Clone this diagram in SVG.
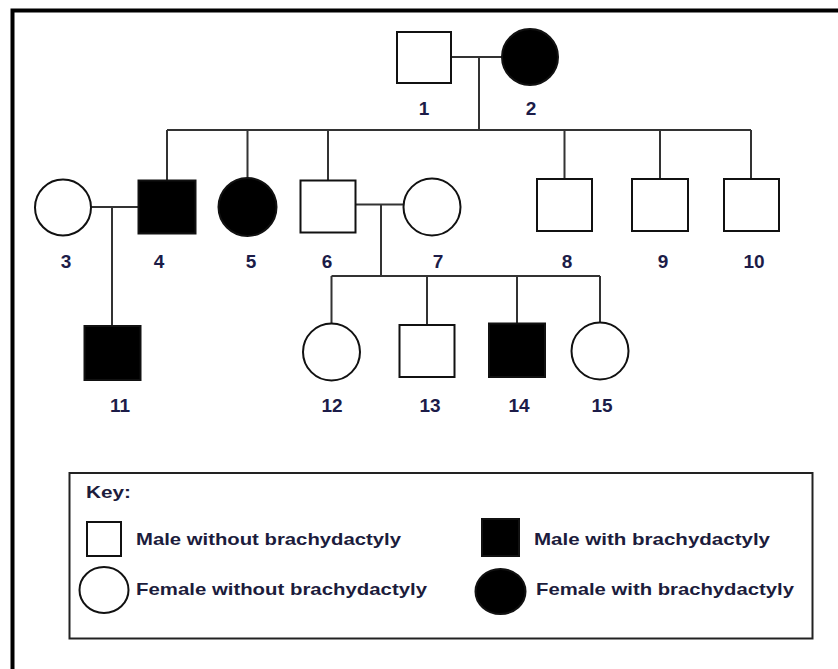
<svg xmlns="http://www.w3.org/2000/svg" width="838" height="669" viewBox="0 0 838 669">
<style>
.m{fill:#fff;stroke:#111;stroke-width:2}
.a{fill:#000;stroke:#111;stroke-width:2}
.c{fill:none;stroke:#333;stroke-width:2}
.lb{font-family:"Liberation Sans",Arial,sans-serif;font-weight:bold;font-size:19px;fill:#1c1c48;text-anchor:middle}
.kt{font-family:"Liberation Sans",Arial,sans-serif;font-weight:bold;font-size:17px;fill:#1c1c3c}
</style>
<rect x="0" y="0" width="838" height="669" fill="#fff"/>
<rect x="12.5" y="10.5" width="840" height="680" fill="none" stroke="#000" stroke-width="4"/>
<g id="connectors">
<path class="c" d="M451 57 H502 M479 57 V130 M167 130 H751 M167 130 V180 M247.5 130 V178 M328 130 V180 M564.5 130 V179 M660 130 V179 M751 130 V179"/>
<path class="c" d="M91 207 H138 M112 207 V326"/>
<path class="c" d="M356 204.5 H403 M381 204.5 V276 M331.5 276 H600 M331.5 276 V323.5 M427 276 V325 M517 276 V323 M600 276 V322.5"/>
</g>
<g id="n1"><rect class="m" x="397" y="32" width="54" height="51"/><text class="lb" x="424" y="115">1</text></g>
<g id="n2"><circle class="a" cx="530" cy="57" r="28"/><text class="lb" x="531" y="115">2</text></g>
<g id="n3"><circle class="m" cx="63" cy="207.5" r="28"/><text class="lb" x="66" y="268">3</text></g>
<g id="n4"><rect class="a" x="138.5" y="180.5" width="57" height="53"/><text class="lb" x="159" y="268">4</text></g>
<g id="n5"><circle class="a" cx="247.5" cy="207" r="29"/><text class="lb" x="251" y="268">5</text></g>
<g id="n6"><rect class="m" x="300.5" y="180.5" width="55" height="52" stroke-width="3"/><text class="lb" x="327" y="268">6</text></g>
<g id="n7"><circle class="m" cx="432" cy="207" r="28.5"/><text class="lb" x="438" y="268">7</text></g>
<g id="n8"><rect class="m" x="537" y="179" width="55" height="52"/><text class="lb" x="567" y="268">8</text></g>
<g id="n9"><rect class="m" x="632" y="179" width="56" height="52"/><text class="lb" x="663" y="268">9</text></g>
<g id="n10"><rect class="m" x="724" y="179" width="55" height="52"/><text class="lb" x="754" y="268">10</text></g>
<g id="n11"><rect class="a" x="84.5" y="326" width="56" height="54"/><text class="lb" x="120" y="412">11</text></g>
<g id="n12"><circle class="m" cx="331.5" cy="352" r="28.5"/><text class="lb" x="332" y="412">12</text></g>
<g id="n13"><rect class="m" x="399.5" y="325" width="55" height="52"/><text class="lb" x="430" y="412">13</text></g>
<g id="n14"><rect class="a" x="489" y="323.5" width="56" height="53.5"/><text class="lb" x="519" y="412">14</text></g>
<g id="n15"><circle class="m" cx="600" cy="351" r="28.5"/><text class="lb" x="602" y="412">15</text></g>
<g id="key">
<rect x="69.5" y="473" width="743" height="165.5" fill="#fff" stroke="#222" stroke-width="2"/>
<text class="kt" x="86" y="498" textLength="45" lengthAdjust="spacingAndGlyphs">Key:</text>
<rect class="m" x="87" y="522" width="34" height="34"/>
<text class="kt" x="136" y="545" textLength="265" lengthAdjust="spacingAndGlyphs">Male without brachydactyly</text>
<ellipse class="m" cx="104" cy="590" rx="24.5" ry="23"/>
<text class="kt" x="136" y="595" textLength="291" lengthAdjust="spacingAndGlyphs">Female without brachydactyly</text>
<rect class="a" x="482" y="519" width="37" height="37"/>
<text class="kt" x="534" y="545" textLength="236" lengthAdjust="spacingAndGlyphs">Male with brachydactyly</text>
<ellipse class="a" cx="500.5" cy="591.5" rx="25" ry="22.5"/>
<text class="kt" x="536" y="595" textLength="258" lengthAdjust="spacingAndGlyphs">Female with brachydactyly</text>
</g>
</svg>
